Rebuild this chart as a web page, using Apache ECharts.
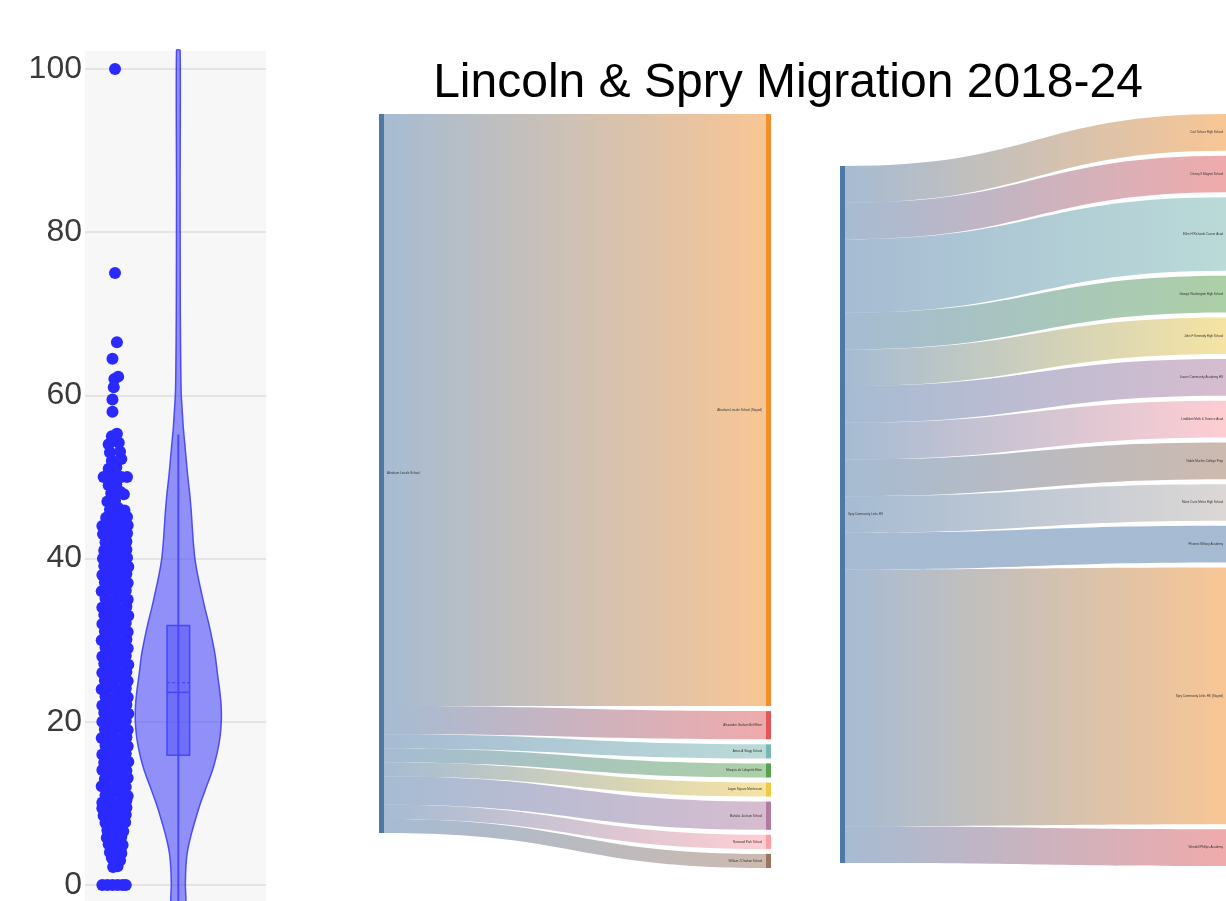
<!DOCTYPE html>
<html><head><meta charset="utf-8">
<script src="https://cdn.jsdelivr.net/npm/echarts@6/dist/echarts.min.js"></script>
<style>html,body{margin:0;padding:0;background:#fff}#c{width:1226px;height:901px}</style>
</head><body><div id="c"></div>
<script>
const titleText = 'Lincoln & Spry Migration 2018-24';
const yTickValues = [0, 20, 40, 60, 80, 100];

// strip of individual values: [jitter, value]
const stripPoints = [
 [-0.2,0],[-0.12,0],[-0.04,0],[0.04,0],[0.12,0],[0.17,0],
 [-0.03,2.2],[0.04,2.3],
 [0.0,3.1],[0.08,3.0],[-0.05,3.3],
 [-0.08,4.0],[0.02,4.2],[0.1,3.9],
 [-0.1,5.0],[0.0,5.2],[0.12,4.9],
 [-0.13,5.8],[-0.02,6.0],[0.1,5.9],
 [-0.12,6.7],[0.0,6.9],[0.13,6.6],
 [-0.15,7.6],[-0.04,7.8],[0.07,7.5],[0.16,7.7],
 [-0.18,8.5],[-0.06,8.7],[0.06,8.4],[0.17,8.6],
 [-0.2,9.4],[-0.08,9.6],[0.04,9.3],[0.18,9.5],
 [-0.2,10.1],[-0.08,10.3],[0.05,10.0],[0.18,10.4],
 [-0.15,11.0],[-0.02,11.3],[0.11,11.1],[0.2,10.9],
 [-0.21,12.1],[-0.09,11.9],[0.04,12.2],[0.17,12.0],
 [-0.16,13.0],[-0.03,13.2],[0.1,12.9],[0.2,13.1],
 [-0.2,14.1],[-0.07,13.9],[0.05,14.2],[0.18,14.0],
 [-0.17,15.0],[-0.04,15.2],[0.09,14.9],[0.21,15.1],
 [-0.2,16.0],[-0.08,16.2],[0.05,15.9],[0.17,16.1],
 [-0.15,17.1],[-0.02,16.9],[0.1,17.2],[0.2,17.0],
 [-0.21,18.0],[-0.09,18.2],[0.04,17.9],[0.18,18.1],
 [-0.16,19.1],[-0.03,18.9],[0.1,19.2],[0.2,19.0],
 [-0.2,20.0],[-0.07,20.2],[0.05,19.9],[0.17,20.1],
 [-0.17,21.1],[-0.04,20.9],[0.09,21.2],[0.21,21.0],
 [-0.2,22.0],[-0.08,22.2],[0.05,21.9],[0.18,22.1],
 [-0.15,23.1],[-0.02,22.9],[0.11,23.2],[0.2,23.0],
 [-0.21,24.0],[-0.09,24.2],[0.04,23.9],[0.17,24.1],
 [-0.16,25.1],[-0.03,24.9],[0.1,25.2],[0.2,25.0],
 [-0.2,26.0],[-0.07,26.2],[0.05,25.9],[0.18,26.1],
 [-0.17,27.1],[-0.04,26.9],[0.09,27.2],[0.21,27.0],
 [-0.2,28.0],[-0.08,28.2],[0.05,27.9],[0.17,28.1],
 [-0.15,29.1],[-0.02,28.9],[0.11,29.2],[0.2,29.0],
 [-0.21,30.0],[-0.09,30.2],[0.04,29.9],[0.18,30.1],
 [-0.16,31.1],[-0.03,30.9],[0.1,31.2],[0.2,31.0],
 [-0.2,32.0],[-0.07,32.2],[0.05,31.9],[0.17,32.1],
 [-0.17,33.1],[-0.04,32.9],[0.09,33.2],[0.21,33.0],
 [-0.2,34.0],[-0.08,34.2],[0.05,33.9],[0.18,34.1],
 [-0.15,35.1],[-0.02,34.9],[0.11,35.2],[0.2,35.0],
 [-0.21,36.0],[-0.09,36.2],[0.04,35.9],[0.17,36.1],
 [-0.16,37.1],[-0.03,36.9],[0.1,37.2],[0.2,37.0],
 [-0.2,38.0],[-0.07,38.2],[0.05,37.9],[0.18,38.1],
 [-0.17,39.1],[-0.04,38.9],[0.09,39.2],[0.21,39.0],
 [-0.19,40.0],[-0.08,40.2],[0.05,39.9],[0.19,40.1],
 [-0.17,41.0],[-0.05,41.2],[0.08,40.9],[0.18,41.1],
 [-0.15,42.0],[-0.03,42.2],[0.1,41.9],[0.18,42.1],
 [-0.19,43.0],[-0.06,43.2],[0.07,42.9],[0.19,43.1],
 [-0.2,44.0],[-0.07,44.2],[0.06,43.9],[0.2,44.1],
 [-0.14,45.0],[0.0,45.2],[0.12,44.9],[0.19,45.1],
 [-0.08,46.0],[0.05,46.2],[0.15,45.9],
 [-0.12,47.0],[0.0,47.1],
 [-0.06,48.0],[0.08,48.2],[0.14,47.9],
 [-0.1,49.0],[0.02,49.1],
 [-0.18,50.0],[-0.09,50.0],[0.0,50.0],[0.1,50.0],[0.19,50.0],
 [-0.1,51.0],[0.02,51.2],
 [-0.05,52.0],[0.1,52.2],
 [-0.08,53.0],[0.08,53.1],
 [-0.1,54.0],[0.06,54.2],
 [-0.05,55.0],[0.03,55.3],
 [-0.04,58.0],[-0.04,59.5],[-0.02,61.0],[-0.01,62.0],[0.05,62.3],
 [-0.04,64.5],[0.03,66.5],[0.0,75.0],[0.0,100.0]
];

// violin outline: value -> half width (x units)
const violinY    = [-3, 0, 2, 4, 6, 8, 10, 12, 14, 16, 18, 20, 22, 24, 26, 28, 30, 32, 34, 36, 38, 40, 42, 44, 46, 48, 50, 52, 54, 56, 58, 60, 63, 70, 85, 102.3];
const violinHalf = [0.108,0.111,0.118,0.142,0.197,0.269,0.348,0.442,0.537,0.608,0.656,0.679,0.676,0.651,0.616,0.585,0.537,0.482,0.418,0.360,0.305,0.262,0.237,0.219,0.202,0.179,0.150,0.126,0.103,0.079,0.063,0.047,0.039,0.032,0.028,0.028];

// box: lower whisker, q1, median, q3, upper whisker, mean
const boxStats = [-3, 15.9, 23.6, 31.8, 55.2, 24.8];

const lincolnNodes = ['Abraham Lincoln School','Abraham Lincoln School (Stayed)','Alexander Graham Bell Elem','Amos A Stagg School','Marquis de Lafayette Elem','Logan Square Montessori','Mahalia Jackson School','Norwood Park School','William J Onahan School'];
const lincolnValues = [42, 2, 1, 1, 1, 2, 1, 1];

const spryNodes = ['Spry Community Links HS','Carl Schurz High School','Disney II Magnet School','Ellen H Richards Career Acad','George Washington High School','John F Kennedy High School','Juarez Community Academy HS','Lindblom Math & Science Acad','Noble Muchin College Prep','Marie Curie Metro High School','Phoenix Military Academy','Spry Community Links HS (Stayed)','Wendell Phillips Academy'];
const spryValues = [1, 1, 2, 1, 1, 1, 1, 1, 1, 1, 7, 1];

const palette = ['#4e79a7','#f28e2b','#e15759','#76b7b2','#59a14f','#edc948','#b07aa1','#ff9da7','#9c755f','#bab0ac'];

function sankeySeries(nodes, values, box, srcLocalY) {
  return {
    type: 'sankey',
    left: box[0], top: box[1], width: box[2], height: box[3],
    nodeWidth: 5, nodeGap: 5, layoutIterations: 0, draggable: false,
    emphasis: { disabled: true },
    lineStyle: { color: 'gradient', opacity: 0.5, curveness: 0.5 },
    label: { fontSize: 3, color: '#333', position: 'left', distance: 4, fontFamily: 'Liberation Sans' },
    data: nodes.map((n, i) => {
      const d = { name: n, itemStyle: { color: palette[i % palette.length], borderWidth: 0 } };
      if (i === 0) {
        d.label = { position: 'right', distance: 3 };
        if (srcLocalY != null) d.localY = srcLocalY;
      }
      return d;
    }),
    links: values.map((v, i) => ({ source: nodes[0], target: nodes[i + 1], value: v }))
  };
}

const chart = echarts.init(document.getElementById('c'));
chart.setOption({
  animation: false,
  title: {
    text: titleText, left: 783, top: 55, textAlign: 'center',
    textStyle: { fontSize: 48, fontWeight: 'normal', color: '#000', fontFamily: 'Liberation Sans' }
  },
  graphic: {
    elements: [{ type: 'rect', z: -100, silent: true, shape: { x: 85, y: 51, width: 181, height: 850 }, style: { fill: '#f7f7f7' } }]
  },
  grid: { left: 85, width: 181, top: 69, bottom: 8, containLabel: false },
  xAxis: { type: 'value', min: -0.474, max: 2.385, show: false },
  yAxis: {
    type: 'value', min: 0, max: 100, interval: 20,
    axisLine: { show: false }, axisTick: { show: false },
    axisLabel: { fontSize: 32, color: '#3a3a3a', margin: 3, fontFamily: 'Liberation Sans',
      formatter: v => yTickValues.indexOf(v) >= 0 ? String(v) : '' },
    splitLine: { lineStyle: { color: '#e4e4e4', width: 2 } }
  },
  series: [
    {
      type: 'scatter', symbolSize: 12, clip: false,
      itemStyle: { color: '#2a2aff', opacity: 1 },
      emphasis: { disabled: true },
      data: stripPoints, z: 3
    },
    {
      type: 'custom', clip: false, z: 2,
      data: [[1, 0]],
      renderItem: function (params, api) {
        const pts = [];
        for (let i = 0; i < violinY.length; i++) pts.push(api.coord([1 + violinHalf[i], violinY[i]]));
        for (let i = violinY.length - 1; i >= 0; i--) pts.push(api.coord([1 - violinHalf[i], violinY[i]]));
        const bw = 0.179;
        const q1 = api.coord([1 - bw, boxStats[1]]);
        const q3 = api.coord([1 + bw, boxStats[3]]);
        const medL = api.coord([1 - bw, boxStats[2]]), medR = api.coord([1 + bw, boxStats[2]]);
        const mnL = api.coord([1 - bw, boxStats[5]]), mnR = api.coord([1 + bw, boxStats[5]]);
        const wLo = api.coord([1, boxStats[0]]), wHi = api.coord([1, boxStats[4]]);
        const stroke = 'rgba(70,70,245,0.95)';
        return {
          type: 'group',
          children: [
            { type: 'polygon', shape: { points: pts, smooth: 0.2 }, style: { fill: 'rgba(60,60,250,0.55)', stroke: stroke, lineWidth: 1.5 } },
            { type: 'line', shape: { x1: wLo[0], y1: wLo[1], x2: wHi[0], y2: wHi[1] }, style: { stroke: stroke, lineWidth: 2 } },
            { type: 'rect', shape: { x: q1[0], y: q3[1], width: q3[0] - q1[0], height: q1[1] - q3[1] }, style: { fill: 'rgba(70,70,250,0.45)', stroke: stroke, lineWidth: 1.5 } },
            { type: 'line', shape: { x1: medL[0], y1: medL[1], x2: medR[0], y2: medR[1] }, style: { stroke: stroke, lineWidth: 1.5 } },
            { type: 'line', shape: { x1: mnL[0], y1: mnL[1], x2: mnR[0], y2: mnR[1] }, style: { stroke: stroke, lineWidth: 1.2, lineDash: [3, 2] } }
          ]
        };
      }
    },
    sankeySeries(lincolnNodes, lincolnValues, [379, 114, 392, 754], null),
    sankeySeries(spryNodes, spryValues, [840, 114, 392, 752], 52 / 752)
  ]
});
</script></body></html>
